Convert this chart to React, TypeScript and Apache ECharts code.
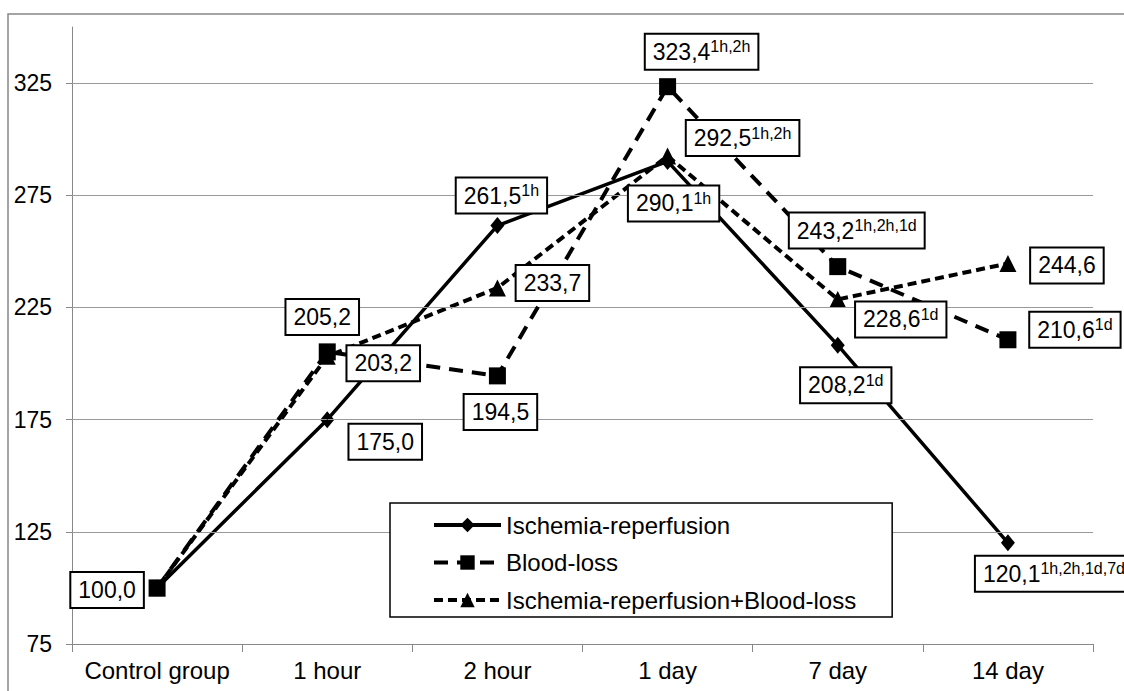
import React, { useEffect, useRef } from 'react';
import * as echarts from 'echarts';

const categories = ['Control group', '1 hour', '2 hour', '1 day', '7 day', '14 day'];
const seriesNames = ['Ischemia-reperfusion', 'Blood-loss', 'Ischemia-reperfusion+Blood-loss'];

const irValues = [100.0, 175.0, 261.5, 290.1, 208.2, 120.1];
const blValues = [100.0, 205.2, 194.5, 323.4, 243.2, 210.6];
const irblValues = [100.0, 203.2, 233.7, 292.5, 228.6, 244.6];

const irSup = ['', '', '1h', '1h', '1d', '1h,2h,1d,7d'];
const blSup = ['', '', '', '1h,2h', '1h,2h,1d', '1d'];
const irblSup = ['', '', '', '1h,2h', '1d', ''];

const irShown = [true, true, true, true, true, true];
const blShown = [false, true, true, true, true, true];
const irblShown = [false, true, true, true, true, true];

const yTicks = [75, 125, 175, 225, 275, 325];

// label placement (style only): [dx, dy, align]
const irOffsets: any[] = [[-50, 2], [58, 22], [4, -30], [6, 42], [8, 40], [-32, 31, 'left']];
const blOffsets: any[] = [[0, 0], [-5, -35], [3, 36], [34, -35], [19, -36], [67, -10]];
const irblOffsets: any[] = [[0, 0], [56, 7], [55, -5], [75, -18], [63, 20], [59, 2]];

const FONT = '"Liberation Sans", Arial, sans-serif';

function fmt(v: number) {
  return v.toFixed(1).replace('.', ',');
}

function labelSeries(values: number[], sups: string[], shown: boolean[], offsets: any[], idx: number) {
  return {
    type: 'scatter',
    name: '_lbl' + idx,
    z: 10,
    silent: true,
    symbolSize: 1,
    itemStyle: { color: '#000', opacity: 1 },
    label: {
      show: true,
      position: 'inside',
      verticalAlign: 'middle',
      color: '#000',
      opacity: 1,
      textBorderWidth: 0,
      backgroundColor: '#ffffff',
      borderColor: '#000000',
      borderWidth: 2,
      padding: [4, 7, 4, 7],
      rich: {
        v: { fontSize: 23, fontFamily: FONT, color: '#000', lineHeight: 26, textBorderWidth: 0 },
        s: { fontSize: 16, fontFamily: FONT, color: '#000', verticalAlign: 'top', lineHeight: 18, textBorderWidth: 0 },
      },
    },
    data: values.map((v, i) => ({
      value: v,
      label: {
        show: shown[i],
        offset: [offsets[i][0], offsets[i][1]],
        align: offsets[i][2] || 'center',
        formatter: () => (sups[i] ? `{v|${fmt(v)}}{s|${sups[i]}}` : `{v|${fmt(v)}}`),
      },
    })),
  };
}

export default function App() {
  const ref = useRef<HTMLDivElement>(null);
  useEffect(() => {
    if (!ref.current) return;
    const chart = echarts.init(ref.current, undefined, { renderer: 'svg' });
    const option: any = {
      animation: false,
      backgroundColor: '#ffffff',
      textStyle: { fontFamily: FONT },
      graphic: [
        {
          type: 'rect',
          shape: { x: 8, y: 14, width: 1400, height: 1000 },
          style: { fill: 'none', stroke: '#868686', lineWidth: 1.5 },
          silent: true,
          z: 0,
        },
      ],
      grid: { left: 72, right: 31, top: 27, bottom: 47, containLabel: false },
      legend: {
        data: seriesNames,
        orient: 'vertical',
        left: 390,
        top: 503,
        itemWidth: 67,
        itemHeight: 18,
        itemGap: 11.5,
        padding: [9, 36, 4, 42],
        borderColor: '#000',
        borderWidth: 1.5,
        backgroundColor: '#fff',
        selectedMode: false,
        lineStyle: { width: 4 },
        textStyle: { fontSize: 24, fontFamily: FONT, color: '#000', lineHeight: 26 },
        z: 20,
      },
      xAxis: {
        type: 'category',
        data: categories,
        boundaryGap: true,
        axisLine: { show: true, lineStyle: { color: '#888', width: 1 } },
        axisTick: { show: true, interval: 0, length: 8, lineStyle: { color: '#888', width: 1 } },
        axisLabel: { interval: 0, fontSize: 24, fontFamily: FONT, color: '#000', margin: 14 },
        splitLine: { show: false },
      },
      yAxis: {
        type: 'value',
        min: 75,
        max: 350,
        axisLine: { show: true, lineStyle: { color: '#888', width: 1 } },
        axisTick: { show: true, length: 6, customValues: yTicks, lineStyle: { color: '#888', width: 1 } },
        axisLabel: { customValues: yTicks, fontSize: 23, fontFamily: FONT, color: '#000', margin: 20 },
        splitLine: { show: false },
      },
      series: [
        {
          type: 'line',
          name: '_grid',
          data: [],
          z: 1,
          silent: true,
          markLine: {
            silent: true,
            symbol: ['none', 'none'],
            label: { show: false },
            lineStyle: { color: '#999', width: 1, type: 'solid' },
            data: yTicks.filter((v) => v > 75).map((v) => ({ yAxis: v })),
          },
        },
        {
          type: 'line',
          name: seriesNames[0],
          data: irValues,
          z: 3,
          symbol: 'diamond',
          symbolSize: [14, 17],
          lineStyle: { color: '#000', width: 3.5, type: 'solid' },
          itemStyle: { color: '#000', borderWidth: 0 },
        },
        {
          type: 'line',
          name: seriesNames[1],
          data: blValues,
          z: 5,
          symbol: 'rect',
          symbolSize: 17,
          lineStyle: { color: '#000', width: 4, type: [14, 9] },
          itemStyle: { color: '#000', borderWidth: 0 },
        },
        {
          type: 'line',
          name: seriesNames[2],
          data: irblValues,
          z: 4,
          symbol: 'triangle',
          symbolSize: 17,
          lineStyle: { color: '#000', width: 4, type: [9, 5] },
          itemStyle: { color: '#000', borderWidth: 0 },
        },
        labelSeries(irValues, irSup, irShown, irOffsets, 1),
        labelSeries(blValues, blSup, blShown, blOffsets, 2),
        labelSeries(irblValues, irblSup, irblShown, irblOffsets, 3),
      ],
    };
    chart.setOption(option);
    return () => chart.dispose();
  }, []);
  return <div ref={ref} style={{ position: 'absolute', left: 0, top: 0, width: 1124, height: 691 }} />;
}
